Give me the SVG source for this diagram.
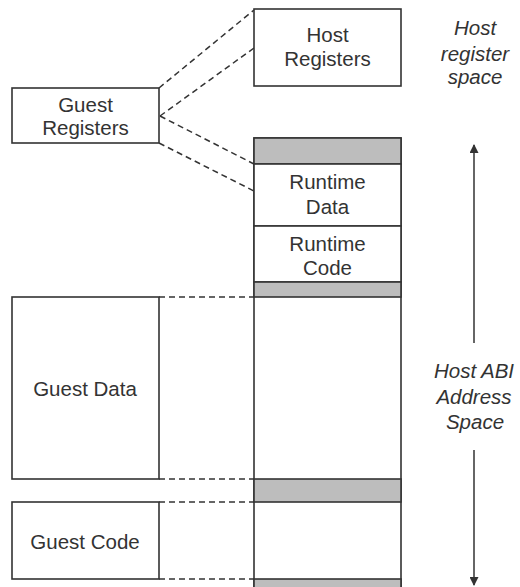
<svg xmlns="http://www.w3.org/2000/svg" width="520" height="587" viewBox="0 0 520 587">
<style>
.box{fill:#fff;stroke:#333;stroke-width:1.6}
.band{fill:#bdbdbd;stroke:#333;stroke-width:1.6}
.t{font-family:"Liberation Sans",Arial,sans-serif;font-size:20.5px;fill:#333;text-anchor:middle}
.i{font-style:italic}
.dash{stroke:#333;stroke-width:1.5;stroke-dasharray:6 4;fill:none}
.ar{stroke:#333;stroke-width:1.5;fill:none}
</style>
<defs>
<marker id="ah" viewBox="0 0 10 10" refX="9" refY="5" markerWidth="11" markerHeight="9" orient="auto" markerUnits="userSpaceOnUse">
<path d="M0,0 L10,5 L0,10 z" fill="#333"/>
</marker>
</defs>
<rect width="520" height="587" fill="#fff"/>
<g id="connectors">
<line class="dash" x1="159" y1="88" x2="254" y2="10"/>
<line class="dash" x1="160" y1="116" x2="254" y2="48"/>
<line class="dash" x1="160" y1="116" x2="254" y2="164"/>
<line class="dash" x1="159" y1="143" x2="254" y2="191"/>
<line class="dash" x1="159" y1="297" x2="254" y2="297"/>
<line class="dash" x1="159" y1="479" x2="254" y2="479"/>
<line class="dash" x1="159" y1="502" x2="254" y2="502"/>
<line class="dash" x1="159" y1="579" x2="254" y2="579"/>
<line class="ar" x1="474" y1="343" x2="474" y2="145" marker-end="url(#ah)"/>
<line class="ar" x1="474" y1="450" x2="474" y2="585" marker-end="url(#ah)"/>
</g>
<g id="guest-registers">
<rect class="box" x="12" y="88" width="147" height="55"/>
<text class="t" x="85.5" y="112">Guest</text>
<text class="t" x="85.5" y="135">Registers</text>
</g>
<g id="host-registers">
<rect class="box" x="254" y="9" width="147" height="77"/>
<text class="t" x="327.5" y="42">Host</text>
<text class="t" x="327.5" y="66">Registers</text>
</g>
<g id="host-column">
<rect class="box" x="254" y="138" width="147" height="460"/>
<rect class="band" x="254" y="138" width="147" height="26"/>
<rect class="box" x="254" y="164" width="147" height="62"/>
<rect class="box" x="254" y="226" width="147" height="56"/>
<rect class="band" x="254" y="282" width="147" height="15"/>
<rect class="band" x="254" y="479" width="147" height="23"/>
<rect class="band" x="254" y="579" width="147" height="20"/>
</g>
<g id="runtime-data">
<text class="t" x="327.5" y="189">Runtime</text>
<text class="t" x="327.5" y="214">Data</text>
</g>
<g id="runtime-code">
<text class="t" x="327.5" y="251">Runtime</text>
<text class="t" x="327.5" y="275">Code</text>
</g>
<g id="guest-data">
<rect class="box" x="12" y="297" width="147" height="182"/>
<text class="t" x="85" y="396">Guest Data</text>
</g>
<g id="guest-code">
<rect class="box" x="12" y="502" width="147" height="77"/>
<text class="t" x="85" y="549">Guest Code</text>
</g>
<g id="label-register-space">
<text class="t i" x="475" y="35">Host</text>
<text class="t i" x="475" y="61">register</text>
<text class="t i" x="475" y="84">space</text>
</g>
<g id="label-abi-space">
<text class="t i" x="474" y="378">Host ABI</text>
<text class="t i" x="474" y="404">Address</text>
<text class="t i" x="475" y="429">Space</text>
</g>
</svg>
